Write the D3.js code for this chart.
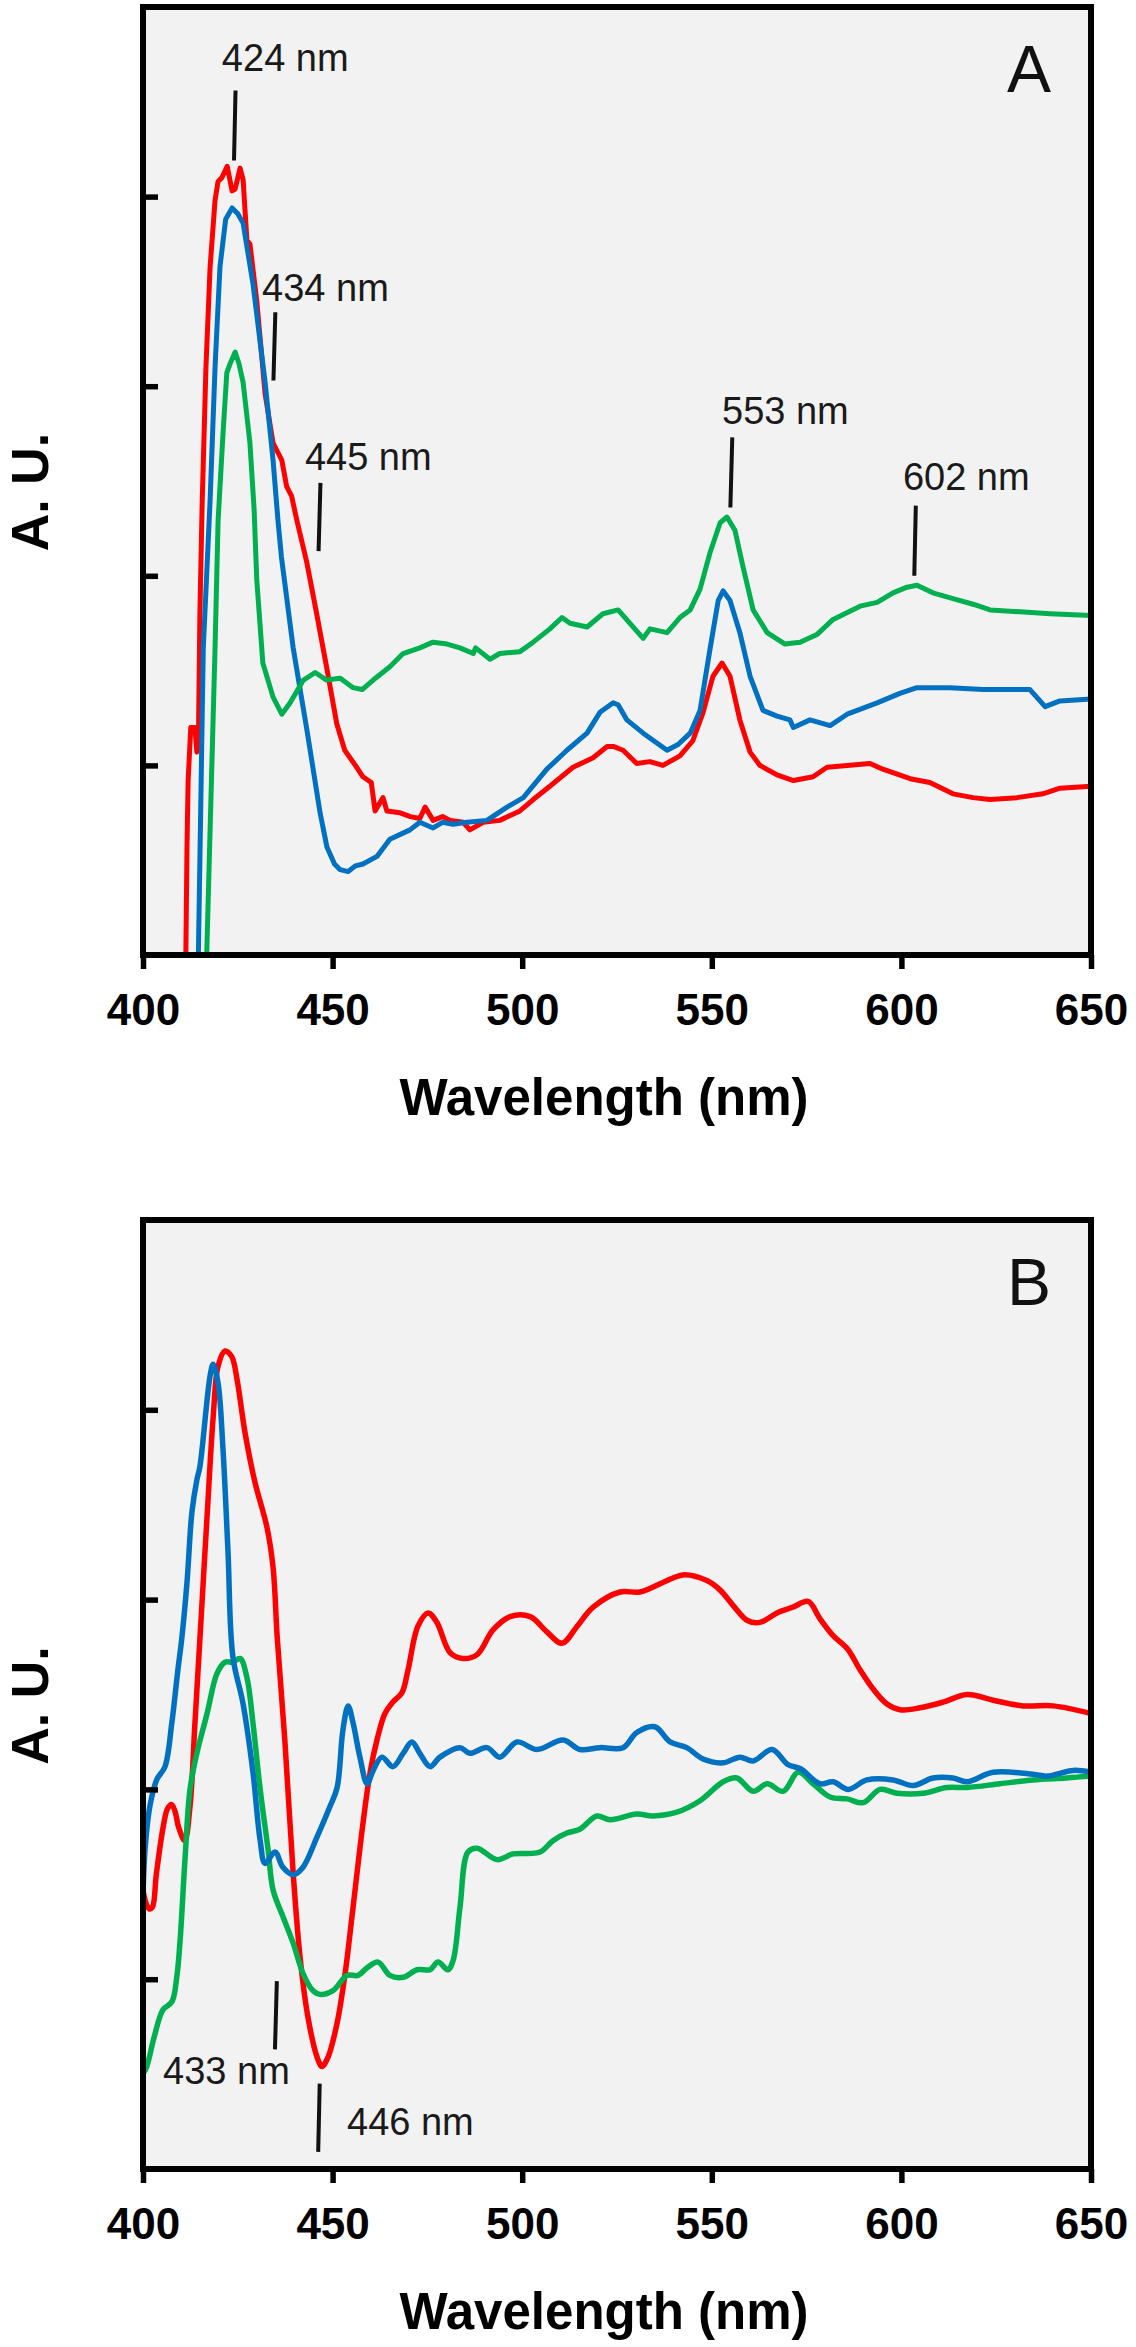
<!DOCTYPE html>
<html><head><meta charset="utf-8">
<script src="https://cdn.jsdelivr.net/npm/d3@7"></script>
<style>html,body{margin:0;padding:0;background:#fff;} svg{display:block;}</style>
</head><body>
<script>
// ---------------- DATA ----------------
const xTicks = [400, 450, 500, 550, 600, 650];
const yTicks = [1, 2, 3, 4];
const xTitle = "Wavelength (nm)";
const yTitle = "A. U.";
const panelLetters = ["A", "B"];

// Panel A  [wavelength nm, absorbance a.u.]
const aRed = [
  [411.1,-0.2],[411.3,0.0],[411.6,0.57],[411.9,0.92],[412.6,1.20],[413.7,1.20],[414.2,1.07],[414.6,1.10],
  [415.0,1.80],[415.6,2.38],[416.6,3.10],[417.7,3.63],[419.0,3.98],[419.8,4.08],[420.8,4.10],[422.2,4.16],
  [423.5,4.03],[424.3,4.04],[425.6,4.15],[426.4,4.09],[427.4,3.77],[428.2,3.75],[430.0,3.45],[432.2,2.96],
  [434.3,2.70],[436.6,2.61],[437.9,2.47],[439.2,2.42],[440.6,2.29],[443.2,2.07],[445.8,1.80],[448.4,1.52],
  [451.1,1.22],[453.2,1.08],[456.0,1.00],[458.0,0.94],[460.2,0.91],[461.2,0.76],[463.3,0.83],[464.3,0.76],
  [467.8,0.75],[470.5,0.73],[473.0,0.72],[474.4,0.78],[476.5,0.71],[479.0,0.73],[481.0,0.71],[484.4,0.70],
  [486.2,0.66],[489.7,0.70],[494.1,0.71],[499.4,0.76],[502.9,0.82],[507.3,0.89],[513.4,0.99],[518.7,1.04],
  [522.4,1.10],[524.0,1.10],[526.6,1.08],[530.2,1.01],[533.7,1.02],[537.1,1.00],[541.6,1.05],[545.0,1.13],
  [547.7,1.28],[550.3,1.47],[552.7,1.54],[554.8,1.47],[557.4,1.24],[560.1,1.07],[562.7,1.00],[567.2,0.95],
  [571.5,0.92],[576.7,0.94],[580.4,0.99],[585.7,1.00],[591.7,1.01],[595.1,0.98],[602.3,0.93],[607.5,0.91],
  [613.6,0.85],[618.9,0.83],[623.4,0.82],[630.5,0.83],[637.3,0.85],[641.8,0.88],[650.0,0.89]
];
const aBlue = [
  [414.3,-0.2],[414.6,0.0],[415.9,1.62],[417.7,2.40],[419.0,3.10],[420.3,3.63],[421.8,3.88],[423.5,3.94],
  [425.0,3.91],[426.4,3.86],[429.0,3.54],[432.2,3.02],[434.3,2.61],[435.6,2.29],[436.5,2.10],[439.6,1.62],
  [443.2,1.19],[446.7,0.75],[448.5,0.57],[450.5,0.48],[452.0,0.45],[454.1,0.44],[456.0,0.47],[458.0,0.48],
  [461.7,0.52],[465.1,0.61],[470.4,0.66],[473.0,0.70],[476.5,0.67],[479.0,0.70],[481.8,0.69],[485.4,0.70],
  [490.7,0.71],[496.0,0.78],[500.3,0.83],[506.5,0.98],[511.8,1.08],[517.1,1.17],[520.5,1.28],[524.0,1.33],
  [525.3,1.32],[527.6,1.24],[531.9,1.17],[538.2,1.08],[541.1,1.11],[544.3,1.17],[546.9,1.29],[549.5,1.61],
  [551.7,1.87],[553.0,1.92],[554.8,1.87],[557.4,1.70],[560.1,1.47],[563.5,1.29],[567.2,1.26],[570.6,1.24],
  [571.5,1.20],[575.9,1.24],[581.2,1.21],[585.7,1.27],[593.6,1.33],[599.6,1.38],[604.1,1.41],[612.8,1.41],
  [621.5,1.40],[633.9,1.40],[637.9,1.31],[641.8,1.34],[650.0,1.35]
];
const aGreen = [
  [416.5,-0.2],[416.8,0.0],[419.0,1.62],[419.8,2.29],[421.1,2.75],[422.1,3.07],[423.0,3.12],[424.3,3.18],
  [425.3,3.12],[426.4,3.02],[428.2,2.70],[429.3,2.35],[430.0,1.98],[431.6,1.54],[434.3,1.36],[436.6,1.27],
  [438.8,1.33],[442.3,1.45],[445.4,1.49],[448.4,1.45],[452.0,1.46],[455.4,1.41],[457.8,1.40],[460.7,1.45],
  [465.1,1.52],[468.6,1.59],[473.0,1.62],[476.5,1.65],[480.2,1.64],[483.6,1.62],[487.1,1.59],[487.7,1.62],
  [491.5,1.56],[494.1,1.59],[499.4,1.60],[502.9,1.65],[507.3,1.72],[510.5,1.78],[512.6,1.75],[517.1,1.73],
  [521.3,1.80],[525.3,1.82],[531.9,1.67],[533.7,1.72],[538.2,1.70],[541.6,1.78],[544.3,1.82],[546.9,1.93],
  [549.5,2.12],[552.2,2.28],[554.0,2.31],[556.1,2.24],[558.2,2.05],[560.9,1.82],[564.6,1.70],[569.3,1.64],
  [573.3,1.65],[577.7,1.69],[582.0,1.77],[589.1,1.84],[593.6,1.86],[597.8,1.91],[601.5,1.94],[604.1,1.95],
  [608.3,1.91],[613.6,1.88],[618.9,1.85],[623.4,1.82],[631.3,1.81],[639.2,1.80],[650.0,1.79]
];

// Panel B
const bRed = [
  [400.0,1.47],[400.8,1.40],[401.7,1.37],[402.5,1.38],[403.5,1.55],[405.3,1.80],[406.5,1.90],[407.6,1.92],
  [408.5,1.88],[409.4,1.80],[411.0,1.73],[412.4,1.91],[413.7,2.35],[415.0,2.79],[416.9,3.44],[418.5,3.96],
  [419.8,4.23],[421.6,4.31],[423.4,4.28],[424.8,4.16],[426.9,3.88],[429.5,3.62],[432.7,3.38],[434.3,3.17],
  [435.4,2.80],[437.4,2.26],[439.6,1.56],[441.4,1.12],[443.5,0.80],[445.9,0.59],[447.2,0.54],[448.8,0.59],
  [451.2,0.77],[453.3,1.03],[455.4,1.38],[458.0,1.82],[459.9,2.09],[461.7,2.26],[463.8,2.40],[465.9,2.46],
  [468.3,2.51],[469.9,2.63],[472.5,2.86],[475.2,2.93],[477.5,2.88],[481.0,2.72],[484.4,2.69],[488.1,2.71],
  [492.3,2.84],[496.8,2.91],[502.1,2.91],[506.5,2.83],[510.5,2.77],[514.5,2.86],[518.7,2.96],[525.8,3.04],
  [531.0,3.04],[537.1,3.09],[542.4,3.13],[548.7,3.10],[552.2,3.05],[555.6,2.97],[559.4,2.89],[562.7,2.88],
  [567.2,2.93],[571.4,2.96],[575.4,2.99],[578.5,2.90],[582.0,2.81],[585.8,2.74],[589.1,2.63],[592.5,2.53],
  [596.2,2.45],[599.6,2.42],[604.9,2.43],[611.0,2.46],[617.3,2.50],[624.2,2.47],[632.1,2.44],[640.0,2.44],
  [650.0,2.40]
];
const bBlue = [
  [400.0,1.45],[400.6,1.70],[401.8,1.91],[403.6,2.05],[405.8,2.12],[407.6,2.35],[409.2,2.63],[410.2,2.79],
  [411.6,3.09],[412.9,3.46],[414.2,3.63],[415.0,3.70],[417.7,4.18],[418.5,4.24],[419.8,4.14],[421.1,3.79],
  [422.4,3.26],[423.7,2.70],[426.4,2.45],[429.0,2.09],[430.9,1.73],[432.2,1.61],[434.8,1.67],[436.9,1.59],
  [439.6,1.55],[442.2,1.59],[445.9,1.75],[449.3,1.91],[451.2,2.01],[452.7,2.31],[454.1,2.44],[455.4,2.35],
  [457.2,2.17],[459.1,2.03],[460.7,2.10],[463.0,2.17],[465.9,2.12],[468.6,2.19],[470.9,2.25],[473.0,2.19],
  [475.7,2.12],[478.3,2.17],[483.6,2.22],[486.2,2.19],[490.7,2.22],[494.1,2.17],[498.6,2.25],[503.9,2.21],
  [510.8,2.26],[515.2,2.21],[520.5,2.22],[526.6,2.22],[530.2,2.30],[535.0,2.33],[539.0,2.25],[543.4,2.22],
  [547.7,2.16],[553.0,2.14],[557.4,2.17],[560.9,2.15],[565.9,2.21],[570.1,2.13],[573.3,2.11],[578.5,2.03],
  [582.0,2.04],[586.0,2.00],[590.9,2.05],[597.8,2.05],[603.1,2.02],[608.3,2.06],[613.6,2.06],[617.3,2.04],
  [624.2,2.09],[634.7,2.08],[638.4,2.07],[645.3,2.10],[650.0,2.09]
];
const bGreen = [
  [400.0,0.50],[401.0,0.54],[403.0,0.70],[405.3,0.84],[407.6,0.88],[408.9,1.01],[409.8,1.21],[411.1,1.64],
  [412.4,2.00],[414.2,2.19],[416.9,2.40],[419.5,2.61],[421.6,2.67],[423.7,2.67],[425.6,2.69],[427.4,2.59],
  [429.0,2.35],[430.9,2.00],[433.0,1.68],[434.3,1.47],[436.9,1.33],[439.6,1.19],[442.2,1.03],[444.8,0.94],
  [446.7,0.92],[450.1,0.94],[453.8,1.02],[456.7,1.02],[459.1,1.06],[462.0,1.09],[465.1,1.02],[468.6,1.01],
  [472.3,1.05],[475.7,1.05],[477.8,1.09],[480.4,1.05],[481.8,1.10],[483.6,1.38],[485.7,1.67],[488.1,1.69],
  [493.4,1.63],[497.6,1.66],[504.7,1.67],[508.1,1.73],[511.8,1.77],[515.2,1.79],[519.7,1.86],[523.2,1.84],
  [530.2,1.87],[534.5,1.86],[540.8,1.88],[546.9,1.94],[553.0,2.04],[556.6,2.06],[560.9,1.99],[564.6,2.03],
  [568.8,1.99],[572.8,2.09],[576.7,2.03],[581.2,1.96],[585.7,1.95],[589.9,1.93],[594.4,2.00],[598.8,1.98],
  [605.7,1.98],[612.0,2.01],[617.3,2.01],[626.0,2.03],[634.7,2.05],[643.5,2.06],[650.0,2.07]
];

// Peak annotations: label, marker wavelength (top/bottom), marker value range, label anchor (nm, value)
const aLabels = ["424 nm", "434 nm", "445 nm", "553 nm", "602 nm"];
const aMarkNm = [[424.4, 424.0], [434.9, 434.4], [446.8, 446.3], [555.4, 554.9], [603.8, 603.4]];
const aMarkVal = [[4.56, 4.19], [3.39, 3.03], [2.49, 2.13], [2.73, 2.36], [2.37, 2.00]];
const aLabelPos = [[420.8, 4.66], [431.4, 3.45], [442.7, 2.56], [552.7, 2.80], [600.4, 2.45]];

const bLabels = ["433 nm", "446 nm"];
const bMarkNm = [[435.3, 434.8], [446.6, 446.2]];
const bMarkVal = [[0.99, 0.63], [0.45, 0.09]];
const bLabelPos = [[405.3, 0.45], [453.8, 0.18]];

// ---------------- RENDER ----------------
const FONT = "'Liberation Sans', Arial, Helvetica, sans-serif";
const COLORS = { red: "#ff0000", blue: "#0070c0", green: "#00b050" };
const svg = d3.select("body").append("svg").attr("width", 1136).attr("height", 2347)
  .style("background", "#fff");

function drawPanel(cfg, idx) {
  const left = 143, right = 1091, top = cfg.top, bottom = cfg.bottom;
  const x = d3.scaleLinear().domain([400, 650]).range([left, right]);
  const y = d3.scaleLinear().domain([0, 5]).range([bottom, top]);
  const g = svg.append("g");

  g.append("rect").attr("x", left).attr("y", top).attr("width", right - left).attr("height", bottom - top)
    .attr("fill", "#f2f2f2");

  const clipId = "clip" + idx;
  g.append("clipPath").attr("id", clipId).append("rect")
    .attr("x", left).attr("y", top).attr("width", right - left).attr("height", bottom - top);

  const line = d3.line().x(d => x(d[0])).y(d => y(d[1])).curve(cfg.curve);
  const lg = g.append("g").attr("clip-path", `url(#${clipId})`);
  cfg.series.forEach(s => {
    lg.append("path").datum(s.data).attr("d", line).attr("fill", "none")
      .attr("stroke", s.color).attr("stroke-width", cfg.lw)
      .attr("stroke-linejoin", "round").attr("stroke-linecap", "round");
  });

  // annotations
  cfg.labels.forEach((lab, i) => {
    g.append("line")
      .attr("x1", x(cfg.markNm[i][0])).attr("x2", x(cfg.markNm[i][1]))
      .attr("y1", y(cfg.markVal[i][0])).attr("y2", y(cfg.markVal[i][1]))
      .attr("stroke", "#111").attr("stroke-width", 4);
    g.append("text").attr("x", x(cfg.labelPos[i][0])).attr("y", y(cfg.labelPos[i][1]))
      .attr("font-family", FONT).attr("font-size", 38).attr("fill", "#1a1a1a").text(lab);
  });

  // panel letter
  g.append("text").attr("x", right - 40).attr("y", top + 85).attr("text-anchor", "end")
    .attr("font-family", FONT).attr("font-size", 66).attr("fill", "#111").text(cfg.letter);

  // axes
  const xa = g.append("g").attr("transform", `translate(0,${bottom})`)
    .call(d3.axisBottom(x).tickValues(xTicks).tickSize(14).tickPadding(25).tickFormat(d3.format("d")));
  xa.select(".domain").remove();
  xa.selectAll(".tick line").attr("stroke", "#000").attr("stroke-width", 5.5);
  xa.selectAll(".tick text").attr("font-family", FONT).attr("font-size", 44).attr("font-weight", "bold")
    .attr("fill", "#000");

  const ya = g.append("g").attr("transform", `translate(${left},0)`)
    .call(d3.axisLeft(y).tickValues(yTicks).tickSize(-15).tickFormat(""));
  ya.select(".domain").remove();
  ya.selectAll(".tick line").attr("stroke", "#000").attr("stroke-width", 5.5);

  // frame
  g.append("rect").attr("x", left).attr("y", top).attr("width", right - left).attr("height", bottom - top)
    .attr("fill", "none").attr("stroke", "#000").attr("stroke-width", 6);

  // titles
  g.append("text").attr("x", 604).attr("y", bottom + 160).attr("text-anchor", "middle")
    .attr("font-family", FONT).attr("font-size", 51).attr("font-weight", "bold").attr("fill", "#000")
    .text(xTitle);
  g.append("text").attr("transform", `translate(48,${(top + bottom) / 2 + 11}) rotate(-90)`)
    .attr("text-anchor", "middle").attr("font-family", FONT).attr("font-size", 52)
    .attr("font-weight", "bold").attr("fill", "#000").text(yTitle);
}

drawPanel({
  top: 7, bottom: 955, letter: panelLetters[0], curve: d3.curveLinear, lw: 5,
  series: [{ data: aRed, color: COLORS.red }, { data: aBlue, color: COLORS.blue }, { data: aGreen, color: COLORS.green }],
  labels: aLabels, markNm: aMarkNm, markVal: aMarkVal, labelPos: aLabelPos
}, 0);

drawPanel({
  top: 1220, bottom: 2169, letter: panelLetters[1], curve: d3.curveCatmullRom.alpha(0.5), lw: 5.5,
  series: [{ data: bRed, color: COLORS.red }, { data: bGreen, color: COLORS.green }, { data: bBlue, color: COLORS.blue }],
  labels: bLabels, markNm: bMarkNm, markVal: bMarkVal, labelPos: bLabelPos
}, 1);
</script>
</body></html>
